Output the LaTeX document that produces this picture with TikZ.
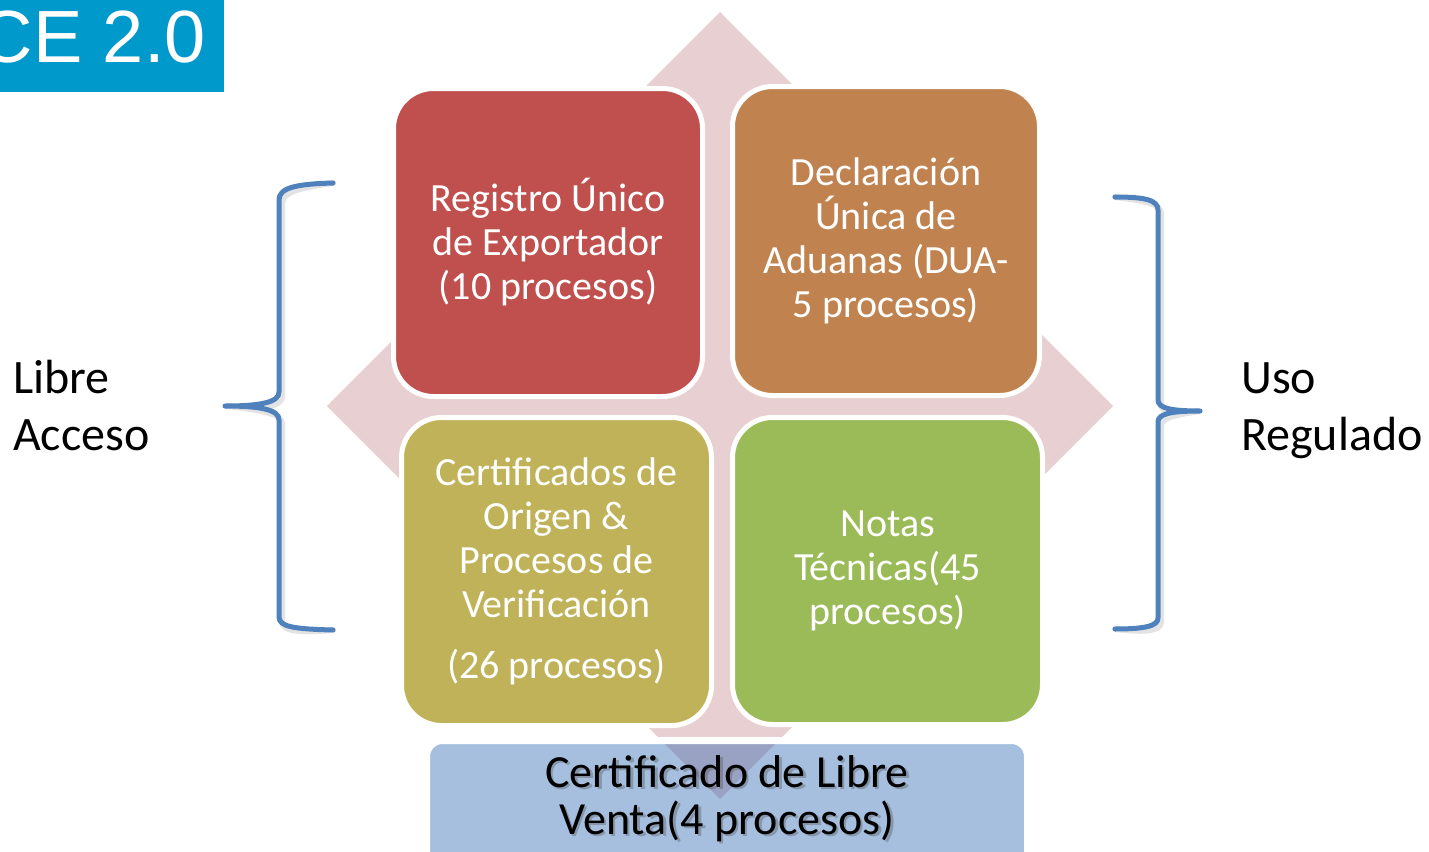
\documentclass[tikz,border=0pt]{standalone}
\usepackage{fontspec}
\setmainfont{Carlito}
\newfontfamily\arialf{Liberation Sans}
\definecolor{cred}{RGB}{192,80,77}
\definecolor{corange}{RGB}{192,131,80}
\definecolor{colive}{RGB}{191,178,88}
\definecolor{cgreen}{RGB}{155,187,89}
\definecolor{cpink}{RGB}{232,207,209}
\definecolor{cblue}{RGB}{35,95,172}
\definecolor{ctitle}{RGB}{0,153,204}
\definecolor{cbrace}{RGB}{79,129,189}
\tikzset{
  quad/.style={draw=white, line width=5pt, rounded corners=40pt, inner sep=0pt,
    minimum width=#1, text=white, align=center,
    font=\fontsize{40}{44}\selectfont},
  brace/.style={draw=cbrace, line width=5pt, line cap=round, line join=round},
  braceshadow/.style={draw=black!60, opacity=0.18, line width=6pt, line cap=round},
  sidelabel/.style={anchor=west, align=left, inner sep=0pt, font=\fontsize{48}{57}\selectfont}
}
\begin{document}
\begin{tikzpicture}[x=1pt,y=-1pt]
\useasboundingbox (0,0) rectangle (1429,851);
% title
\fill[ctitle] (0,0) rectangle (224,92);
\node[anchor=base east, inner sep=0pt, text=white, font=\arialf\fontsize{74}{80}\selectfont] (title) at (206,63) {CE 2.0};
% background diamond
\fill[cpink] (720,12) -- (1113,406) -- (720,799) -- (327,406) -- cycle;
% quadrant boxes
\node[quad=309pt, minimum height=308pt, fill=cred] (reg) at (548,242.5) {Registro Único\\de Exportador\\(10 procesos)};
\node[quad=307pt, minimum height=309pt, fill=corange] (dua) at (886,241) {Declaración\\Única de\\Aduanas (DUA-\\5 procesos)};
\node[quad=310pt, minimum height=308pt, fill=colive] (cert) at (556.5,571.5) {Certificados de\\Origen \&\\Procesos de\\Verificación\\[17pt](26 procesos)};
\node[quad=310pt, minimum height=307pt, fill=cgreen] (notas) at (887.5,571) {Notas\\Técnicas(45\\procesos)};
% bottom box
\node[draw=white, line width=7pt, fill=cblue, fill opacity=0.4, draw opacity=1, rounded corners=16pt,
  minimum width=601pt, minimum height=132pt, inner sep=0pt] (libre) at (727,806.5) {};
\node[text=black!70, opacity=0.35, align=center, font=\fontsize{46}{47}\selectfont] (libreshadow) at (729.5,801) {Certificado de Libre\\Venta(4 procesos)};
\node[text=black, align=center, font=\fontsize{46}{47}\selectfont] (libretxt) at (727,798.5) {Certificado de Libre\\Venta(4 procesos)};
% braces
\coordinate (lbt) at (333,183);
\coordinate (lbtip) at (225,406);
\coordinate (lbb) at (333,630);
\coordinate (rbt) at (1115,197);
\coordinate (rbtip) at (1200,411);
\coordinate (rbb) at (1115,629);
\begin{scope}[shift={(3,4)}]
\draw[braceshadow] (lbt) .. controls (295,184) and (279,188) .. (279,200) -- (279,392) .. controls (279,402) and (262,406) .. (lbtip) .. controls (262,406) and (279,410) .. (279,420) -- (279,617) .. controls (279,627) and (295,629) .. (lbb);
\draw[braceshadow] (rbt) .. controls (1145,197) and (1158,200) .. (1158,210) -- (1158,400) .. controls (1158,408) and (1170,411) .. (rbtip) .. controls (1170,411) and (1158,414) .. (1158,422) -- (1158,618) .. controls (1158,626) and (1145,629) .. (rbb);
\end{scope}
\draw[brace] (lbt) .. controls (295,184) and (279,188) .. (279,200) -- (279,392) .. controls (279,402) and (262,406) .. (lbtip) .. controls (262,406) and (279,410) .. (279,420) -- (279,617) .. controls (279,627) and (295,629) .. (lbb);
\draw[brace] (rbt) .. controls (1145,197) and (1158,200) .. (1158,210) -- (1158,400) .. controls (1158,408) and (1170,411) .. (rbtip) .. controls (1170,411) and (1158,414) .. (1158,422) -- (1158,618) .. controls (1158,626) and (1145,629) .. (rbb);
% side labels
\node[sidelabel] (libreacc) at (13,406) {Libre\\Acceso};
\node[sidelabel] (usoreg) at (1241,411) {Uso\\Regulado};
\end{tikzpicture}
\end{document}
